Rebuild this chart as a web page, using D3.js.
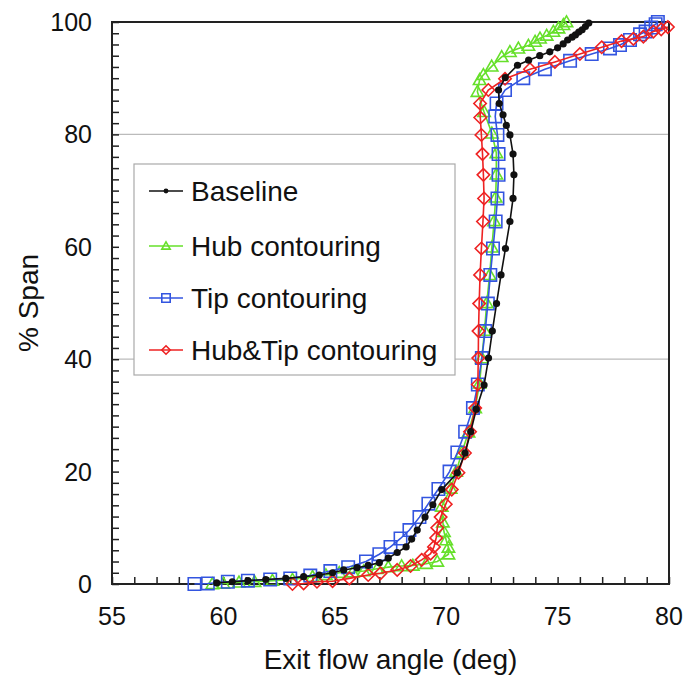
<!DOCTYPE html>
<html>
<head>
<meta charset="utf-8">
<script src="https://cdn.jsdelivr.net/npm/d3@7"></script>
<style>
  body { margin: 0; background: white; }
  text { font-family: "Liberation Sans", Arial, sans-serif; fill: #111; }
</style>
</head>
<body>
<div id="chart"></div>
<script>

// series names and colours
var seriesNames = ["Baseline", "Hub contouring", "Tip contouring", "Hub&Tip contouring"]
var seriesColours = ["#111111", "#66e02a", "#3355e0", "#ee2222"]
var seriesMarkers = ["circle", "triangle", "square", "diamond"]

// tick labels
var xTicks = [55, 60, 65, 70, 75, 80]
var yTicks = [0, 20, 40, 60, 80, 100]
var gridValues = [40, 80]

// [exit flow angle (deg), % span]
var baseline = [[59.7,0.2],[60.4,0.4],[61.1,0.6],[61.9,0.8],[62.8,1.0],[63.6,1.3],[64.3,1.6],[64.9,2.0],[65.4,2.5],
  [66.0,2.9],[66.5,3.3],[67.0,3.8],[67.4,4.6],[67.8,5.6],[68.2,6.6],[68.45,8.0],[68.7,9.6],[69.05,11.9],[69.4,14.1],
  [69.8,16.8],[70.5,19.8],[70.85,23.3],[71.1,27.1],[71.35,31.1],[71.7,35.4],[71.9,40.2],[72.07,45.0],[72.26,49.9],
  [72.46,55.0],[72.66,59.7],[72.86,64.5],[73.0,68.6],[73.04,72.8],[73.0,76.5],[72.86,79.9],[72.7,81.6],[72.55,83.5],
  [72.38,85.5],[72.35,87.9],[72.65,90.1],[73.2,92.3],[73.7,93.2],[74.2,94.0],[74.65,94.7],[75.0,95.4],[75.25,96.1],
  [75.45,96.8],[75.65,97.3],[75.8,97.7],[75.95,98.2],[76.1,98.6],[76.25,99.2],[76.4,99.8]]

var hub = [[59.5,0.0],[60.0,0.1],[60.7,0.3],[61.4,0.4],[62.2,0.6],[63.1,0.8],[64.0,1.3],[64.6,1.6],[65.2,2.0],
  [65.8,2.1],[66.3,2.3],[66.9,2.7],[67.4,3.0],[68.0,3.2],[68.5,3.3],[69.1,3.6],[69.6,4.0],[70.1,5.3],[70.1,6.5],
  [70.0,7.8],[69.9,9.3],[69.85,11.0],[69.8,13.8],[70.2,17.0],[70.45,20.0],[70.7,23.4],[71.0,27.0],[71.3,31.3],
  [71.5,35.7],[71.6,40.2],[71.72,45.1],[71.82,50.0],[71.95,55.0],[72.05,59.9],[72.15,64.6],[72.22,68.8],
  [72.25,72.9],[72.25,76.7],[72.05,80.2],[71.7,84.0],[71.4,87.6],[71.5,89.7],[71.67,90.6],[72.04,92.1],
  [72.49,93.8],[72.86,94.7],[73.24,95.3],[73.69,95.8],[73.99,96.5],[74.21,97.1],[74.51,97.6],[74.81,98.3],
  [75.04,98.9],[75.26,99.5],[75.4,100]]

var tip = [[58.7,0.0],[59.3,0.1],[60.2,0.4],[61.1,0.6],[62.1,0.8],[63.0,1.0],[63.9,1.5],[64.8,2.3],[65.6,3.0],
  [66.4,4.0],[67.0,5.3],[67.5,6.6],[67.95,8.1],[68.35,9.6],[68.8,11.9],[69.2,14.3],[69.65,16.9],[70.15,20.0],
  [70.5,23.4],[70.85,27.1],[71.2,31.3],[71.42,35.5],[71.6,40.2],[71.75,45.0],[71.87,49.9],[71.98,55.0],
  [72.1,59.7],[72.22,64.5],[72.3,68.6],[72.35,72.8],[72.35,76.5],[72.3,79.9],[72.2,83.2],[72.26,85.5],
  [72.64,87.9],[73.46,90.0],[74.43,91.6],[75.56,93.1],[76.53,94.3],[77.35,95.3],[77.8,95.9],[78.25,96.8],
  [78.7,97.8],[78.95,98.3],[79.2,99.0],[79.4,99.6],[79.5,100]]

var hubTip = [[63.1,0.0],[63.6,0.1],[64.2,0.4],[64.9,0.5],[65.65,1.0],[66.5,1.6],[67.05,1.9],[67.8,2.5],[68.4,3.2],
  [68.9,4.3],[69.3,5.4],[69.45,6.6],[69.55,8.2],[69.6,10.0],[69.75,11.9],[69.98,14.2],[70.25,16.8],[70.55,19.8],
  [70.84,23.3],[71.07,27.1],[71.3,31.3],[71.42,35.5],[71.44,40.2],[71.45,45.0],[71.48,49.9],[71.52,55.0],
  [71.58,59.7],[71.65,64.5],[71.7,68.6],[71.67,72.8],[71.63,76.5],[71.58,79.9],[71.53,83.0],[71.52,85.5],
  [71.89,87.9],[72.64,89.9],[73.76,91.6],[74.88,92.9],[76.0,94.3],[76.98,95.5],[77.87,96.6],[78.4,97.0],
  [78.85,97.4],[79.3,98.3],[79.65,98.7],[79.95,99.1]]

var allSeries = [baseline, hub, tip, hubTip]

var width = 696, height = 682
var margin = {left: 112, right: 27, top: 22, bottom: 98}

var svg = d3.select("#chart").append("svg")
    .attr("width", width)
    .attr("height", height)

var x = d3.scaleLinear().domain([55, 80]).range([margin.left, width - margin.right])
var y = d3.scaleLinear().domain([0, 100]).range([height - margin.bottom, margin.top])

// gridlines
svg.selectAll(".grid")
    .data(gridValues)
    .enter().append("line")
        .attr("x1", x(55))
        .attr("x2", x(80))
        .attr("y1", function(d){ return y(d) })
        .attr("y2", function(d){ return y(d) })
        .attr("stroke", "#bbbbbb")
        .attr("stroke-width", 1.2)

// axes with inward ticks
var xAxis = d3.axisBottom(x).tickValues(d3.range(55, 81, 1)).tickSize(-7).tickFormat("")
var yAxis = d3.axisLeft(y).tickValues(d3.range(0, 101, 2)).tickSize(-7).tickFormat("")

svg.append("g")
    .attr("transform", "translate(0," + y(0) + ")")
    .call(xAxis)
    .call(function(g){ g.select(".domain").remove() })
    .selectAll("line").attr("stroke", "#222").attr("stroke-width", 1.5)

svg.append("g")
    .attr("transform", "translate(" + x(55) + ",0)")
    .call(yAxis)
    .call(function(g){ g.select(".domain").remove() })
    .selectAll("line").attr("stroke", "#222").attr("stroke-width", 1.5)

// frame
svg.append("rect")
    .attr("x", x(55))
    .attr("y", y(100))
    .attr("width", x(80) - x(55))
    .attr("height", y(0) - y(100))
    .attr("fill", "none")
    .attr("stroke", "#222")
    .attr("stroke-width", 2)

// tick labels
svg.selectAll(".xlab")
    .data(xTicks)
    .enter().append("text")
        .attr("x", function(d){ return x(d) })
        .attr("y", y(0) + 41)
        .attr("text-anchor", "middle")
        .style("font-size", "25px")
        .text(function(d){ return d })

svg.selectAll(".ylab")
    .data(yTicks)
    .enter().append("text")
        .attr("x", x(55) - 20)
        .attr("y", function(d){ return y(d) + 9 })
        .attr("text-anchor", "end")
        .style("font-size", "25px")
        .text(function(d){ return d })

// axis titles
svg.append("text")
    .attr("x", (x(55) + x(80)) / 2)
    .attr("y", 669)
    .attr("text-anchor", "middle")
    .style("font-size", "28px")
    .text("Exit flow angle (deg)")

svg.append("text")
    .attr("transform", "translate(38," + y(50) + ") rotate(-90)")
    .attr("text-anchor", "middle")
    .style("font-size", "28px")
    .text("% Span")

// marker shapes, s = half size
function markerPath(type, s){
    if(type == "triangle"){
        return "M0," + (-s) + "L" + s + "," + (s * 0.75) + "L" + (-s) + "," + (s * 0.75) + "Z"
    }
    if(type == "square"){
        return "M" + (-s) + "," + (-s) + "H" + s + "V" + s + "H" + (-s) + "Z"
    }
    return "M0," + (-s) + "L" + s + ",0L0," + s + "L" + (-s) + ",0Z"
}

// draw one marker of given type
function drawMarker(sel, type, colour, s){
    if(type == "circle"){
        sel.append("circle")
            .attr("r", s * 0.58)
            .attr("fill", colour)
    }
    else{
        sel.append("path")
            .attr("d", markerPath(type, s))
            .attr("fill", "none")
            .attr("stroke", colour)
            .attr("stroke-width", 1.6)
    }
}

var line = d3.line()
    .x(function(d){ return x(d[0]) })
    .y(function(d){ return y(d[1]) })

// drawing order: hub, tip, hub&tip, baseline
var order = [1, 2, 3, 0]
order.forEach(function(i){
    var g = svg.append("g")
    g.append("path")
        .datum(allSeries[i])
        .attr("d", line)
        .attr("fill", "none")
        .attr("stroke", seriesColours[i])
        .attr("stroke-width", 1.6)
    g.selectAll(".pt")
        .data(allSeries[i])
        .enter().append("g")
            .attr("transform", function(d){ return "translate(" + x(d[0]) + "," + y(d[1]) + ")" })
            .each(function(){ drawMarker(d3.select(this), seriesMarkers[i], seriesColours[i], 6.2) })
})

// legend
var legend = svg.append("g")
legend.append("rect")
    .attr("x", 134)
    .attr("y", 164)
    .attr("width", 321)
    .attr("height", 211)
    .attr("fill", "white")
    .attr("stroke", "#aaaaaa")
    .attr("stroke-width", 1.2)

var legendRows = [191, 246, 298, 350]
seriesNames.forEach(function(name, i){
    var row = legend.append("g").attr("transform", "translate(0," + legendRows[i] + ")")
    row.append("line")
        .attr("x1", 149)
        .attr("x2", 183)
        .attr("stroke", seriesColours[i])
        .attr("stroke-width", 1.6)
    var m = row.append("g").attr("transform", "translate(166,0)")
    drawMarker(m, seriesMarkers[i], seriesColours[i], 4.2)
    row.append("text")
        .attr("x", 191)
        .attr("y", 10)
        .style("font-size", "28px")
        .text(name)
})

</script>
</body>
</html>
